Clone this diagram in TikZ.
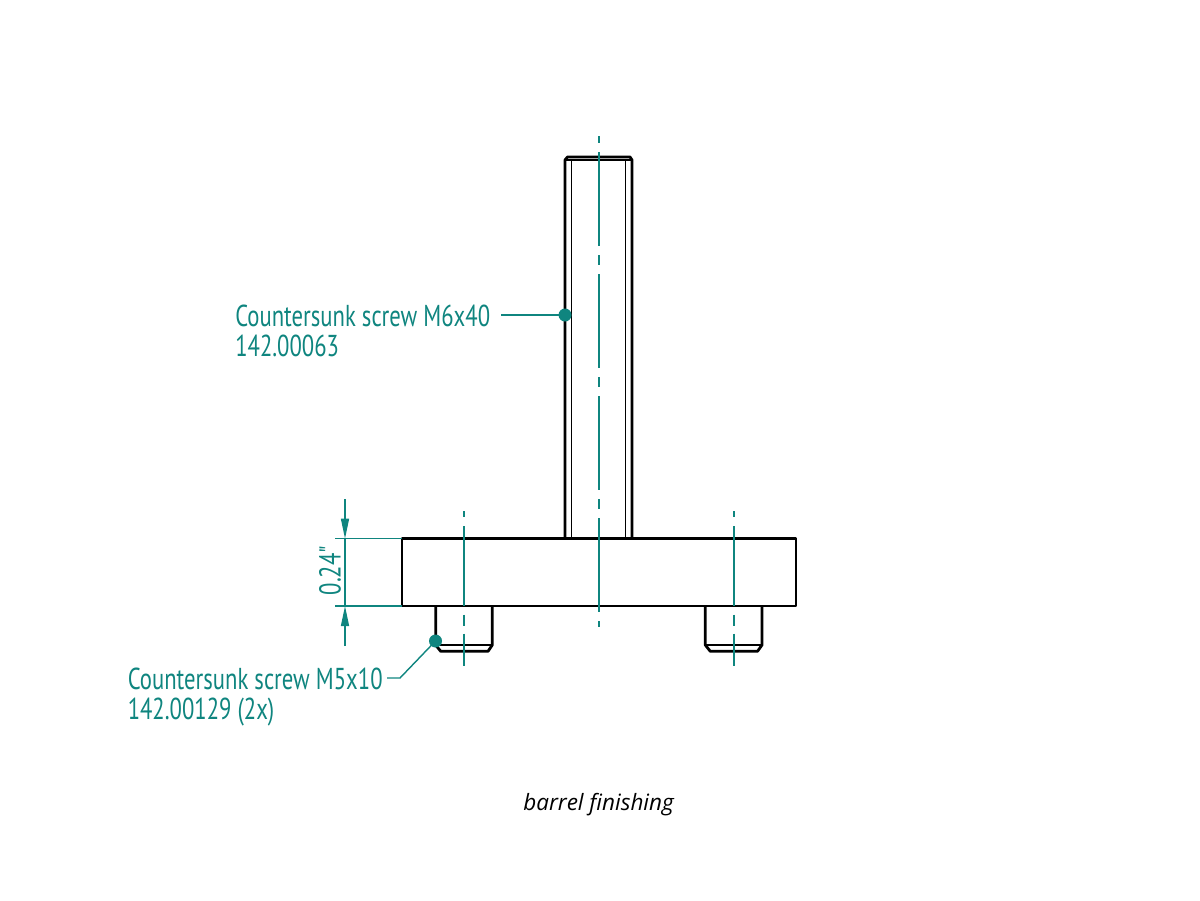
\documentclass[tikz,border=0pt]{standalone}
\usepackage{fontspec}
\usetikzlibrary{arrows.meta}
\newfontfamily\labelfont[FakeStretch=0.75]{PT Sans}
\newfontfamily\notefont{Open Sans}
\definecolor{callteal}{HTML}{0F857F}

\begin{document}
\begin{tikzpicture}[x=0.025cm,y=-0.025cm,>={Triangle[length=0.5cm,width=0.2cm]},
    part/.style={draw=black,line width=2pt,line join=round},
    thread/.style={draw=black,line width=0.8pt},
    axis/.style={color=callteal,draw,line width=1pt},
    dimline/.style={color=callteal,draw,line width=1pt},
    dot/.style={circle,fill=callteal,minimum size=0.325cm,inner sep=0pt},
    callout/.style={text=callteal,font=\labelfont\fontsize{21.5}{21.3}\selectfont,align=left,inner sep=0pt,anchor=north west}]
  \useasboundingbox (0,0) rectangle (1200,900);

  % long screw
  \draw[part] (565,538.7) -- (565,160) -- (567.5,157) -- (630,157) -- (632,160) -- (632,538.7);
  \draw[thread] (571.5,538.7) -- (571.5,160);
  \draw[thread] (625.5,538.7) -- (625.5,160);
  \draw[thread] (565,160) -- (632,160);

  % base plate
  \draw[part] (402,538.7) rectangle (796,606);

  % short screws
  \draw[part] (435.7,606) -- (435.7,645) -- (440.7,651.3) -- (488,651.3) -- (492.3,645) -- (492.3,606);
  \draw[part,line width=1.4pt] (435.7,645) -- (492.3,645);
  \draw[part] (705.3,606) -- (705.3,645) -- (710.3,651.3) -- (757.5,651.3) -- (762,645) -- (762,606);
  \draw[part,line width=1.4pt] (705.3,645) -- (762,645);

  % centre lines
  \draw[axis,dash pattern=on 2.35cm off 0.225cm on 0.25cm off 0.225cm,dash phase=2.65cm] (599,136) -- (599,627);
  \draw[axis,dash pattern=on 0.15cm off 0.225cm on 2cm off 0.2125cm on 0.275cm off 0.2cm on 0.8cm off 1cm] (464,511) -- (464,666);
  \draw[axis,dash pattern=on 0.15cm off 0.225cm on 2cm off 0.2125cm on 0.275cm off 0.2cm on 0.8cm off 1cm] (734,511) -- (734,666);

  % thickness dimension
  \coordinate (dimtopfree) at (345,499);
  \coordinate (dimtop) at (345,538.7);
  \coordinate (dimbot) at (345,606);
  \coordinate (dimbotfree) at (345,646);
  \coordinate (exttopfree) at (335,538.7);
  \coordinate (exttop) at (402,538.7);
  \coordinate (extbotfree) at (335,606);
  \coordinate (extbot) at (402,606);
  \path[dimline]
        (dimtopfree) edge[->] (dimtop)
        (dimbotfree) edge[->] (dimbot)
        (dimtop) edge (dimbot)
        (exttopfree) edge (exttop)
        (extbotfree) edge (extbot);
  \node[text=callteal,font=\labelfont\fontsize{21.5}{21.3}\selectfont,rotate=90,inner sep=0pt] (dimlabel) at (330,570.5) {0.24"};

  % callouts
  \node[callout] (longlabel) at (235,304.5) {Countersunk screw M6x40\\142.00063};
  \node[dot] (longdot) at (565,315) {};
  \coordinate (longfree) at (501,315);
  \draw[dimline] (longfree) -- (longdot.center);

  \node[callout] (shortlabel) at (127.5,667.5) {Countersunk screw M5x10\\142.00129 (2x)};
  \node[dot] (shortdot) at (435.5,641) {};
  \coordinate (shortbend) at (400,678);
  \coordinate (shortfree) at (387,678);
  \draw[dimline] (shortfree) -- (shortbend) -- (shortdot.center);

  \node[font=\notefont\itshape\fontsize{16}{18}\selectfont,inner sep=0pt,anchor=base west] (finish) at (523,810) {barrel finishing};
\end{tikzpicture}
\end{document}
